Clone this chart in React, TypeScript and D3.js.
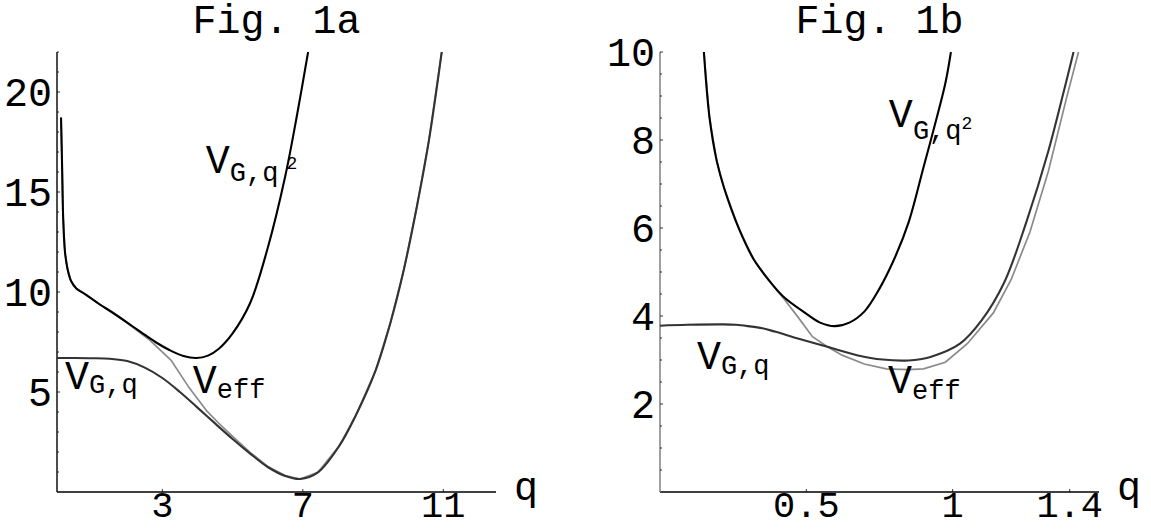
import * as d3 from "d3";
import React, { useRef, useEffect } from "react";

const W = 1151;
const H = 529;
const FONT = "'Courier New', Courier, 'Nimbus Mono PS', 'Nimbus Mono L', FreeMono, 'Liberation Mono', monospace";

// Fig. 1a
const qA_q2 = [0.115, 0.146, 0.176, 0.227, 0.30, 0.40, 0.55, 0.81, 1.2, 1.6, 2.0, 2.4, 2.8, 3.2, 3.6, 3.97, 4.3, 4.6, 5.0, 5.5, 6.0, 6.5, 6.85, 7.15];
const vA_q2 = [18.73, 16.2, 13.7, 12.0, 11.15, 10.55, 10.18, 9.88, 9.4, 8.95, 8.47, 7.98, 7.5, 7.1, 6.8, 6.7, 6.82, 7.15, 7.93, 9.45, 12.2, 15.8, 19.0, 22.0];

const qA_q = [0, 0.5, 1.0, 1.5, 2.0, 2.5, 3.0, 3.5, 4.0, 4.5, 5.0, 5.5, 6.0, 6.5, 6.92, 7.43, 8.05, 8.5, 9.07, 9.5, 9.88, 10.25, 10.59, 10.96];
const vA_q = [6.70, 6.70, 6.69, 6.66, 6.55, 6.22, 5.70, 5.00, 4.22, 3.43, 2.65, 1.92, 1.25, 0.80, 0.65, 0.98, 2.34, 3.8, 6.07, 8.5, 11.15, 14.3, 17.58, 22.07];

const qA_eff = [0.115, 0.146, 0.176, 0.227, 0.30, 0.40, 0.55, 0.81, 1.2, 1.6, 2.0, 2.3, 2.64, 3.25, 3.76, 4.27, 4.6, 5.0, 5.5, 6.0, 6.5, 6.92, 7.43, 8.05, 8.5, 9.07, 9.5, 9.88, 10.25, 10.59, 10.96];
const vA_eff = [18.73, 16.2, 13.7, 12.0, 11.15, 10.55, 10.18, 9.88, 9.4, 8.95, 8.45, 8.05, 7.59, 6.58, 5.22, 4.04, 3.45, 2.78, 1.98, 1.28, 0.82, 0.65, 0.98, 2.34, 3.8, 6.07, 8.5, 11.15, 14.3, 17.58, 22.07];

// Fig. 1b
const qB_q2 = [0.150, 0.169, 0.194, 0.219, 0.27, 0.32, 0.37, 0.42, 0.496, 0.547, 0.597, 0.647, 0.698, 0.748, 0.80, 0.85, 0.90, 0.937, 0.975, 0.994];
const vB_q2 = [10, 8.52, 7.52, 6.91, 5.98, 5.29, 4.83, 4.45, 4.07, 3.85, 3.77, 3.85, 4.10, 4.60, 5.29, 6.14, 7.37, 8.29, 9.29, 10];

const qB_q = [0, 0.093, 0.219, 0.26, 0.30, 0.35, 0.395, 0.471, 0.572, 0.673, 0.761, 0.849, 0.924, 1.025, 1.10, 1.176, 1.252, 1.327, 1.378, 1.413];
const vB_q = [3.78, 3.80, 3.81, 3.80, 3.77, 3.72, 3.64, 3.49, 3.30, 3.11, 3.01, 2.99, 3.07, 3.37, 3.91, 4.76, 6.14, 7.75, 9.06, 10];

const qB_eff = [0.150, 0.169, 0.194, 0.219, 0.27, 0.32, 0.37, 0.42, 0.471, 0.521, 0.572, 0.622, 0.698, 0.773, 0.849, 0.90, 0.975, 1.05, 1.139, 1.20, 1.264, 1.327, 1.39, 1.43];
const vB_eff = [10, 8.52, 7.52, 6.91, 5.98, 5.29, 4.83, 4.42, 3.98, 3.53, 3.30, 3.11, 2.91, 2.80, 2.78, 2.80, 2.95, 3.37, 4.07, 4.83, 5.91, 7.29, 8.98, 10];

// ticks
const xTicksA = [3, 7, 11];
const yTicksA = [5, 10, 15, 20];
const xTicksB = [0.5, 1, 1.4];
const yTicksB = [2, 4, 6, 8, 10];

const zip = (q: number[], v: number[]) => q.map((d, i) => [d, v[i]] as [number, number]);

const panels = [
  {
    title: "Fig. 1a",
    xDomain: [0, 12.5], yDomain: [0, 22], xRange: [57, 496],
    xTicks: xTicksA, yTicks: yTicksA, yMinorStep: 1,
    yAxisColor: "#000",
    eff: zip(qA_eff, vA_eff), gq: zip(qA_q, vA_q), gq2: zip(qA_q2, vA_q2),
    labels: [
      { q: 4.236, v: 15.97, sub: "G,q", subDy: 8, sup: "2", supDx: 8, supDy: -12 },
      { q: 0.227, v: 5.13, sub: "G,q", subDy: 4 },
      { q: 3.867, v: 4.95, sub: "eff", subDy: 5 },
    ],
  },
  {
    title: "Fig. 1b",
    xDomain: [0, 1.5], yDomain: [0, 10], xRange: [660, 1099],
    xTicks: xTicksB, yTicks: yTicksB, yMinorStep: 0.5,
    yAxisColor: "#777",
    eff: zip(qB_eff, vB_eff), gq: zip(qB_q, vB_q), gq2: zip(qB_q2, vB_q2),
    labels: [
      { q: 0.782, v: 8.30, sub: "G,q", subDy: 12, sup: "2", supDx: 0, supDy: -10 },
      { q: 0.126, v: 2.80, sub: "G,q", subDy: 5 },
      { q: 0.779, v: 2.26, sub: "eff", subDy: 6 },
    ],
  },
];

function Chart() {
  const ref = useRef<SVGSVGElement>(null);

  useEffect(() => {
    const svg = d3.select(ref.current);
    svg.selectAll("*").remove();

    panels.forEach((p, pi) => {
      const x = d3.scaleLinear().domain(p.xDomain).range(p.xRange);
      const y = d3.scaleLinear().domain(p.yDomain).range([492, 52]);
      const [x0, x1] = p.xRange;
      const g = svg.append("g");

      g.append("clipPath").attr("id", "clip" + pi)
        .append("rect")
        .attr("x", x0 - 5).attr("y", y(p.yDomain[1]))
        .attr("width", x1 - x0 + 10).attr("height", y(0) - y(p.yDomain[1]) + 5);

      // axes
      g.append("line")
        .attr("x1", x0).attr("x2", x1).attr("y1", y(0)).attr("y2", y(0))
        .attr("stroke", "#000").attr("stroke-width", 1.4);
      g.append("line")
        .attr("x1", x0).attr("x2", x0).attr("y1", y(0)).attr("y2", y(p.yDomain[1]))
        .attr("stroke", p.yAxisColor).attr("stroke-width", 1.4);

      // y ticks (major + minor), pointing inward
      const minor = d3.range(p.yMinorStep, p.yDomain[1] + 1e-6, p.yMinorStep)
        .filter(v => !p.yTicks.some(t => Math.abs(t - v) < 1e-6));
      g.selectAll(".ymin").data(minor).enter().append("line")
        .attr("x1", x0).attr("x2", x0 + 2).attr("y1", d => y(d)).attr("y2", d => y(d))
        .attr("stroke", "#000").attr("stroke-width", 0.8);
      g.selectAll(".ymaj").data(p.yTicks).enter().append("line")
        .attr("x1", x0).attr("x2", x0 + 3).attr("y1", d => y(d)).attr("y2", d => y(d))
        .attr("stroke", "#000").attr("stroke-width", 0.8);
      g.selectAll(".ylab").data(p.yTicks).enter().append("text")
        .attr("x", x0 - 5).attr("y", d => y(d) + 14)
        .attr("text-anchor", "end")
        .attr("font-family", FONT).attr("font-size", 40)
        .text(d => String(d));

      // x ticks
      g.selectAll(".xmaj").data(p.xTicks).enter().append("line")
        .attr("x1", d => x(d)).attr("x2", d => x(d)).attr("y1", y(0)).attr("y2", y(0) - 3)
        .attr("stroke", "#000").attr("stroke-width", 0.8);
      g.selectAll(".xlab").data(p.xTicks).enter().append("text")
        .attr("x", d => x(d)).attr("y", 517)
        .attr("text-anchor", "middle")
        .attr("font-family", FONT).attr("font-size", 37)
        .text(d => String(d));

      g.append("text")
        .attr("x", x1 + 18).attr("y", 500)
        .attr("font-family", FONT).attr("font-size", 40)
        .text("q");

      g.append("text")
        .attr("x", (x0 + x1) / 2).attr("y", 33)
        .attr("text-anchor", "middle")
        .attr("font-family", FONT).attr("font-size", 40)
        .text(p.title);

      // curves
      const smooth = d3.line<[number, number]>()
        .x(d => x(d[0])).y(d => y(d[1]))
        .curve(d3.curveCatmullRom.alpha(0.5));
      const straight = d3.line<[number, number]>()
        .x(d => x(d[0])).y(d => y(d[1]));

      const curves = g.append("g").attr("clip-path", `url(#clip${pi})`);
      curves.append("path").attr("d", straight(p.eff))
        .attr("fill", "none").attr("stroke", "#8a8a8a").attr("stroke-width", 1.7);
      curves.append("path").attr("d", smooth(p.gq))
        .attr("fill", "none").attr("stroke", "#333").attr("stroke-width", 2.1);
      curves.append("path").attr("d", smooth(p.gq2))
        .attr("fill", "none").attr("stroke", "#000").attr("stroke-width", 2.1);

      // curve labels
      p.labels.forEach(l => {
        const t = g.append("text")
          .attr("x", x(l.q)).attr("y", y(l.v))
          .attr("font-family", FONT);
        t.append("tspan").attr("font-size", 40).text("V");
        t.append("tspan").attr("font-size", 27).attr("dy", l.subDy).text(l.sub);
        if (l.sup) {
          t.append("tspan").attr("font-size", 18)
            .attr("dx", l.supDx).attr("dy", l.supDy).text(l.sup);
        }
      });
    });
  }, []);

  return (
    <svg ref={ref} width={W} height={H}
         style={{ position: "absolute", left: 0, top: 0, background: "#fff" }} />
  );
}

export default function App() {
  return <Chart />;
}
